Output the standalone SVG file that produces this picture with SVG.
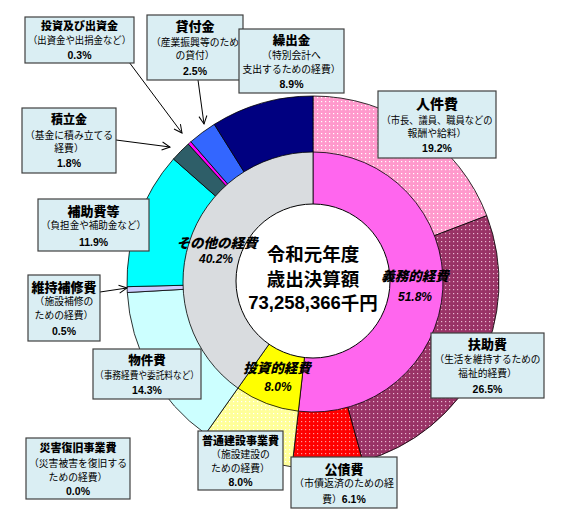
<svg xmlns="http://www.w3.org/2000/svg" width="571" height="526" viewBox="0 0 571 526">
<style>
.box{fill:#DAEEF3;stroke:#404040;stroke-width:1.2}
.seg{stroke:#000;stroke-width:0.8}
.t{font-family:"Noto Sans CJK JP",sans-serif;font-weight:900;text-anchor:middle;dominant-baseline:central;fill:#000}
.s{font-family:"Noto Sans CJK JP",sans-serif;font-size:9.8px;text-anchor:middle;dominant-baseline:central;fill:#000}
.p{font-family:"Liberation Sans","Noto Sans CJK JP",sans-serif;font-weight:bold;font-size:10.5px;text-anchor:middle;dominant-baseline:central;fill:#000}
.c{font-family:"Noto Sans CJK JP",sans-serif;font-weight:900;font-style:italic;font-size:13.5px;text-anchor:middle;dominant-baseline:central;fill:#000}
.cp{font-family:"Liberation Sans",sans-serif;font-weight:bold;font-style:italic;font-size:12px;text-anchor:middle;dominant-baseline:central;fill:#000}
.m{font-family:"Noto Sans CJK JP",sans-serif;font-weight:bold;font-size:18.5px;text-anchor:middle;dominant-baseline:central;fill:#000}
.md{font-family:"Liberation Sans","Noto Sans CJK JP",sans-serif;font-weight:bold;font-size:18.5px;text-anchor:middle;dominant-baseline:central;fill:#000}
.ln{fill:none;stroke:#000;stroke-width:1;marker-end:url(#arr)}
</style>
<defs>
<marker id="arr" markerWidth="10" markerHeight="10" refX="9" refY="5" orient="auto" markerUnits="userSpaceOnUse">
<path d="M1,1 L9,5 L1,9" fill="none" stroke="#000" stroke-width="1"/>
</marker>
<pattern id="pJin" width="4" height="4" patternUnits="userSpaceOnUse"><rect width="4" height="4" fill="#FF99CC"/><rect x="1" y="1" width="1.2" height="1.2" fill="#FFFFFF"/></pattern>
<pattern id="pFu" width="4" height="4" patternUnits="userSpaceOnUse"><rect width="4" height="4" fill="#993366"/><rect x="1" y="1" width="1.2" height="1.2" fill="#E8B8D0"/></pattern>
<pattern id="pKo" width="4" height="4" patternUnits="userSpaceOnUse"><rect width="4" height="4" fill="#FF0000"/><rect x="1" y="1" width="1.2" height="1.2" fill="#FF9999"/></pattern>
<pattern id="pFutsu" width="4" height="4" patternUnits="userSpaceOnUse"><rect width="4" height="4" fill="#FFFF99"/><rect x="1" y="1" width="1.2" height="1.2" fill="#FFFFFF"/></pattern>
</defs>
<rect width="571" height="526" fill="#FFFFFF"/>

<g id="outer-ring">
<path class="seg" fill="url(#pJin)" d="M313,282 L313,96 A186,186 0 0 1 486.79,215.71 Z"/>
<path class="seg" fill="url(#pFu)" d="M313,282 L486.79,215.71 A186,186 0 0 1 362.65,461.26 Z"/>
<path class="seg" fill="url(#pKo)" d="M313,282 L362.65,461.26 A186,186 0 0 1 292.01,466.81 Z"/>
<path class="seg" fill="url(#pFutsu)" d="M313,282 L292.01,466.81 A186,186 0 0 1 205.57,433.85 Z"/>
<path class="seg" fill="#CCFFFF" d="M313,282 L205.57,433.85 A186,186 0 0 1 127.30,292.51 Z"/>
<path class="seg" fill="#CCCCFF" d="M313,282 L127.30,292.51 A186,186 0 0 1 127.06,286.67 Z"/>
<path class="seg" fill="#00FFFF" d="M313,282 L127.06,286.67 A186,186 0 0 1 173.47,158.99 Z"/>
<path class="seg" fill="#2E5E68" d="M313,282 L173.47,158.99 A186,186 0 0 1 188.25,144.04 Z"/>
<path class="seg" fill="#FF00FF" d="M313,282 L188.25,144.04 A186,186 0 0 1 190.87,141.71 Z"/>
<path class="seg" fill="#3366FF" d="M313,282 L190.87,141.71 A186,186 0 0 1 214.33,124.33 Z"/>
<path class="seg" fill="#000080" d="M313,282 L214.33,124.33 A186,186 0 0 1 313,96 Z"/>
</g>

<g id="middle-ring">
<path class="seg" fill="#FF66EE" d="M313,282 L313,152 A130,130 0 1 1 298.33,411.17 Z"/>
<path class="seg" fill="#FFFF00" d="M313,282 L298.33,411.17 A130,130 0 0 1 237.91,388.13 Z"/>
<path class="seg" fill="#D9DCDF" d="M313,282 L237.91,388.13 A130,130 0 0 1 313,152 Z"/>
</g>

<g id="center">
<circle cx="313" cy="281" r="77" fill="#FFFFFF" stroke="#000" stroke-width="1"/>
<text class="m" x="313" y="253">令和元年度</text>
<text class="m" x="313" y="278">歳出決算額</text>
<text class="md" x="313" y="302">73,258,366<tspan font-family="Noto Sans CJK JP, sans-serif">千円</tspan></text>
</g>

<g id="cat-sonota">
<text class="c" x="217" y="242">その他の経費</text>
<text class="cp" x="216" y="259">40.2%</text>
</g>
<g id="cat-gimu">
<text class="c" x="415" y="275">義務的経費</text>
<text class="cp" x="415" y="297">51.8%</text>
</g>
<g id="cat-toshi">
<text class="c" x="277" y="367">投資的経費</text>
<text class="cp" x="278" y="387">8.0%</text>
</g>

<g id="connectors">
<path class="ln" d="M126,58 L182,133"/>
<path class="ln" d="M116,140 L170,147"/>
<path class="ln" d="M198,80 L204,124"/>
<path class="ln" d="M100,292 L127,288"/>
</g>

<g id="node-toshi-shusshi">
<rect class="box" x="25" y="17" width="109" height="46"/>
<text class="t" x="79.5" y="25" font-size="11">投資及び出資金</text>
<text class="s" x="79.5" y="40" textLength="103" lengthAdjust="spacingAndGlyphs">（出資金や出捐金など）</text>
<text class="p" x="79.5" y="55">0.3%</text>
</g>

<g id="node-kashitsuke">
<rect class="box" x="147" y="15" width="96" height="65"/>
<text class="t" x="195" y="25" font-size="13">貸付金</text>
<text class="s" x="195" y="42">（産業振興等のため</text>
<text class="s" x="195" y="55">の貸付）</text>
<text class="p" x="195" y="71">2.5%</text>
</g>

<g id="node-kuridashi">
<rect class="box" x="239" y="29" width="105" height="64"/>
<text class="t" x="291.5" y="39.5" font-size="12.5">繰出金</text>
<text class="s" x="291.5" y="55">（特別会計へ</text>
<text class="s" x="291.5" y="68.5">支出するための経費）</text>
<text class="p" x="291.5" y="84">8.9%</text>
</g>

<g id="node-jinken">
<rect class="box" x="378" y="91" width="118" height="67"/>
<text class="t" x="437" y="103" font-size="14">人件費</text>
<text class="s" x="437" y="120" textLength="111" lengthAdjust="spacingAndGlyphs">（市長、議員、職員などの</text>
<text class="s" x="437" y="133">報酬や給料）</text>
<text class="p" x="437" y="148">19.2%</text>
</g>

<g id="node-tsumitate">
<rect class="box" x="22" y="108" width="94" height="65"/>
<text class="t" x="69" y="118" font-size="12">積立金</text>
<text class="s" x="69" y="135">（基金に積み立てる</text>
<text class="s" x="69" y="148">経費）</text>
<text class="p" x="69" y="163">1.8%</text>
</g>

<g id="node-hojo">
<rect class="box" x="38" y="199" width="111" height="52"/>
<text class="t" x="93.5" y="210" font-size="13">補助費等</text>
<text class="s" x="93.5" y="225" textLength="105" lengthAdjust="spacingAndGlyphs">（負担金や補助金など）</text>
<text class="p" x="93.5" y="242">11.9%</text>
</g>

<g id="node-iji">
<rect class="box" x="28" y="275" width="72" height="66"/>
<text class="t" x="64" y="286" font-size="13">維持補修費</text>
<text class="s" x="64" y="301">（施設補修の</text>
<text class="s" x="64" y="315">ための経費）</text>
<text class="p" x="64" y="331">0.5%</text>
</g>

<g id="node-bukken">
<rect class="box" x="93" y="349" width="108" height="50"/>
<text class="t" x="147" y="359.5" font-size="12.5">物件費</text>
<text class="s" x="147" y="375" textLength="104" lengthAdjust="spacingAndGlyphs">（事務経費や委託料など）</text>
<text class="p" x="147" y="390">14.3%</text>
</g>

<g id="node-fujo">
<rect class="box" x="431" y="333" width="113" height="65"/>
<text class="t" x="487.5" y="343" font-size="13">扶助費</text>
<text class="s" x="487.5" y="359" textLength="106" lengthAdjust="spacingAndGlyphs">（生活を維持するための</text>
<text class="s" x="487.5" y="373">福祉的経費）</text>
<text class="p" x="487.5" y="389">26.5%</text>
</g>

<g id="node-saigai">
<rect class="box" x="26" y="438" width="104" height="61"/>
<text class="t" x="78" y="447" font-size="11">災害復旧事業費</text>
<text class="s" x="78" y="463">（災害被害を復旧する</text>
<text class="s" x="78" y="477">ための経費）</text>
<text class="p" x="78" y="491">0.0%</text>
</g>

<g id="node-futsu">
<rect class="box" x="198" y="431" width="85" height="59"/>
<text class="t" x="240.5" y="440" font-size="11">普通建設事業費</text>
<text class="s" x="240.5" y="454">（施設建設の</text>
<text class="s" x="240.5" y="468">ための経費）</text>
<text class="p" x="240.5" y="482">8.0%</text>
</g>

<g id="node-kosai">
<rect class="box" x="291" y="457" width="106" height="51"/>
<text class="t" x="344" y="468" font-size="13">公債費</text>
<text class="s" x="344" y="483" textLength="100" lengthAdjust="spacingAndGlyphs">（市債返済のための経</text>
<text class="s" x="344" y="499">費）<tspan class="p" font-size="10.5">6.1%</tspan></text>
</g>
</svg>
